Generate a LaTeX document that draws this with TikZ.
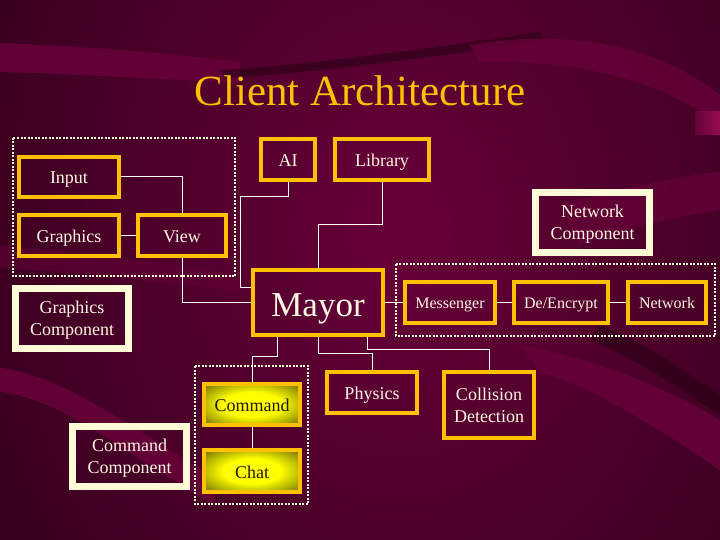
\documentclass[tikz,border=0pt]{standalone}
\usepackage{fontspec}
\setmainfont{Liberation Serif}
\usepackage{tikz}

\definecolor{gold}{RGB}{255,192,0}
\definecolor{cream}{RGB}{255,251,214}
\definecolor{boxtext}{RGB}{255,246,226}
\definecolor{bgmid}{RGB}{104,0,57}
\definecolor{bgdark}{RGB}{30,0,15}
\definecolor{bandmaroon}{RGB}{102,2,56}
\definecolor{shadowmaroon}{RGB}{40,0,20}
\definecolor{pinkend}{RGB}{150,12,82}
\definecolor{darkolive}{RGB}{118,118,0}
\definecolor{midolive}{RGB}{185,185,0}
\pgfdeclareradialshading{yellowglow}{\pgfpoint{0bp}{0bp}}{color(0bp)=(yellow); color(15bp)=(yellow); color(25bp)=(midolive); color(34bp)=(darkolive); color(50bp)=(darkolive)}

\begin{document}
\begin{tikzpicture}
[x=1pt,y=-1pt,
 box/.style={rectangle,draw=gold,line width=4pt,text=boxtext,inner sep=0pt,align=center,font=\fontsize{18}{22}\selectfont,text height=14pt,text depth=0pt},
 netbox/.style={box,font=\fontsize{16}{19}\selectfont,text height=13pt},
 yellowbox/.style={box,text={rgb,255:red,32;green,24;blue,0},shade,shading=yellowglow},
 twoline/.style={text height={},text depth=0pt},
 component/.style={rectangle,draw=cream,line width=7pt,text=boxtext,inner sep=0pt,align=center,font=\fontsize{18}{22}\selectfont,twoline},
 group/.style={draw=cream,line width=2.5pt,dash pattern=on 2pt off 1.5pt},
 wire/.style={draw=white,line width=1pt},
 hv path/.style={to path={-| (\tikztotarget)}},
 vh path/.style={to path={|- (\tikztotarget)}}]
\useasboundingbox (0,0) rectangle (720,540);
% background and swooshes
\begin{scope}
\clip (0,0) rectangle (720,540);
\fill[bgdark] (0,0) rectangle (720,540);
\shade[inner color=bgmid,outer color=bgdark] (400,230) ellipse (700 and 880);
\fill[bandmaroon,opacity=0.9] (0,43) .. controls (80,46) and (160,52) .. (240,62)
  -- (240,82) .. controls (160,80) and (80,74) .. (0,72) -- cycle;
\fill[shadowmaroon,opacity=0.6] (220,70) .. controls (300,66) and (420,50) .. (540,32)
  -- (545,40) .. controls (420,60) and (300,74) .. (225,78) -- cycle;
\fill[bandmaroon,opacity=0.8] (470,45) .. controls (560,30) and (650,40) .. (720,95)
  -- (720,125) .. controls (660,80) and (580,60) .. (480,62) -- cycle;
\shade[left color=bandmaroon,right color=pinkend] (695,112) rectangle (720,135);
\fill[bandmaroon,opacity=0.5] (0,245) .. controls (80,252) and (160,262) .. (240,275)
  -- (240,292) .. controls (160,282) and (80,272) .. (0,268) -- cycle;
\fill[bandmaroon,opacity=0.9] (0,368) .. controls (60,375) and (120,420) .. (210,475)
  -- (215,505) .. controls (120,450) and (60,398) .. (0,392) -- cycle;
\fill[bandmaroon,opacity=0.7] (560,205) .. controls (620,190) and (680,175) .. (720,172)
  -- (720,210) .. controls (680,215) and (620,230) .. (580,245) -- cycle;
\fill[shadowmaroon,opacity=0.6] (600,325) .. controls (650,345) and (690,375) .. (720,395)
  -- (720,415) .. controls (680,390) and (640,360) .. (590,340) -- cycle;
\fill[bandmaroon,opacity=0.9] (520,345) .. controls (600,360) and (670,390) .. (720,420)
  -- (720,470) .. controls (660,430) and (600,390) .. (540,372) -- cycle;
\end{scope}
\node[text=gold,font=\fontsize{43}{50}\selectfont,anchor=base] (title) at (360,106) {Client Architecture};
% groups
\draw[group] (13,138) rectangle (235,276);
\draw[group] (396,264) rectangle (715,336);
\draw[group] (195,366) rectangle (308,504);
% boxes
\node[box,minimum width=100pt,minimum height=40pt] (input)    at (69,177)    {Input};
\node[box,minimum width=100pt,minimum height=41pt] (graphics) at (69,235.5)  {Graphics};
\node[box,minimum width=88pt,minimum height=41pt]  (view)     at (182,235.5) {View};
\node[box,minimum width=54pt,minimum height=41pt]  (ai)       at (288,159.5) {AI};
\node[box,minimum width=94pt,minimum height=41pt]  (library)  at (382,159.5) {Library};
\node[box,minimum width=130pt,minimum height=65pt,font=\fontsize{35}{40}\selectfont,text height=29pt] (mayor) at (318,302) {Mayor};
\node[netbox,minimum width=90pt,minimum height=41pt] (messenger) at (450,302) {Messenger};
\node[netbox,minimum width=94pt,minimum height=41pt] (decrypt)   at (561,302) {De/Encrypt};
\node[netbox,minimum width=78pt,minimum height=41pt] (network)   at (667,302) {Network};
\node[box,minimum width=90pt,minimum height=41pt]  (physics)   at (372,392.5) {Physics};
\node[box,twoline,minimum width=90pt,minimum height=66pt]  (collision) at (489,405) {Collision\\Detection};
\node[yellowbox,minimum width=96pt,minimum height=41pt] (command) at (252,404.5) {Command};
\node[yellowbox,minimum width=96pt,minimum height=42pt] (chat)    at (252,471)   {Chat};
\node[component,minimum width=113pt,minimum height=60pt] (graphcomp) at (72,318.5)  {Graphics\\Component};
\node[component,minimum width=114pt,minimum height=60pt] (netcomp)   at (592.5,222.5) {Network\\Component};
\node[component,minimum width=114pt,minimum height=60pt] (cmdcomp)   at (129.5,456.5) {Command\\Component};
% bends
\coordinate (aibend)   at (240,197);
\coordinate (mayorai)  at ([yshift=15pt]mayor.west);
\coordinate (libbend)  at (318,225);
\coordinate (mayorcmd) at ([xshift=-41pt]mayor.south);
\coordinate (cmdbend)  at (252,356);
\coordinate (physbend) at (372,353);
\coordinate (mayorcol) at ([xshift=49pt]mayor.south);
\coordinate (colbend)  at (489,349);
\path[wire] (input.east) edge[hv path] (view.north)
      (graphics) edge (view)
      (view.south) edge[vh path] (mayor.west)
      (ai.south) edge[vh path] (aibend)
      (aibend) edge[vh path] (mayorai)
      (library.south) edge[vh path] (libbend)
      (libbend) edge (mayor.north)
      (mayor) edge (messenger)
      (messenger) edge (decrypt)
      (decrypt) edge (network)
      (mayorcmd) edge[vh path] (cmdbend)
      (cmdbend) edge (command.north)
      (mayor.south) edge[vh path] (physbend)
      (physbend) edge (physics.north)
      (mayorcol) edge[vh path] (colbend)
      (colbend) edge (collision.north)
      (command) edge (chat);
\end{tikzpicture}
\end{document}
